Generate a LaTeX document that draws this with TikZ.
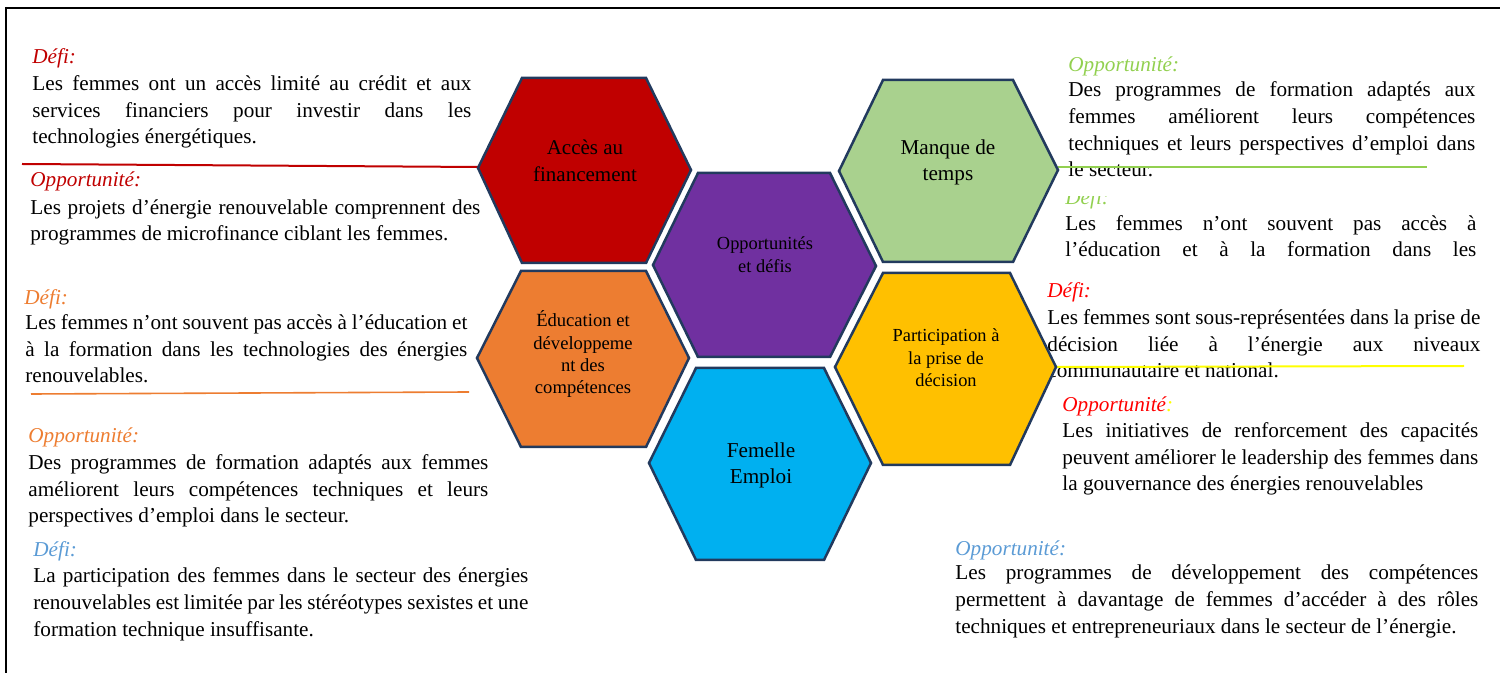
\documentclass[tikz,border=0pt]{standalone}
\usepackage{fontspec}
\setmainfont{Liberation Serif}
\definecolor{cRed}{HTML}{C00000}
\definecolor{cPurple}{HTML}{7030A0}
\definecolor{cGreen}{HTML}{A9D18E}
\definecolor{cLGreen}{HTML}{92D050}
\definecolor{cOrange}{HTML}{ED7D31}
\definecolor{cBlue}{HTML}{00B0F0}
\definecolor{cYellow}{HTML}{FFC000}
\definecolor{cBright}{HTML}{FF0000}
\definecolor{cSky}{HTML}{5B9BD5}
\definecolor{cEdge}{HTML}{223A5E}
\definecolor{cLine}{HTML}{FFFF00}
\newcommand\jl[2]{\makebox[#1][s]{#2}}
% multi-line nodes: the base anchor is the baseline of the LAST line
\tikzset{
  body/.style={anchor=base west, inner sep=0pt, align=left, font=\fontsize{10.6}{13.35}\selectfont},
  head/.style={anchor=base west, inner sep=0pt, font=\fontsize{10.6}{13.35}\selectfont\itshape},
  hexa/.style={draw=cEdge, line width=1.25pt, line join=miter},
  hlab/.style={anchor=base, inner sep=0pt, align=center},
  rule/.style={line width=1pt}
}
\begin{document}
\begin{tikzpicture}[x=0.5pt,y=-0.5pt]
\useasboundingbox (0,0) rectangle (1500,673);
% frame
\draw[line width=1.4pt] (6,8) -- (1500,8);
\draw[line width=1pt] (6,7) -- (6,673);

% ---------- left column ----------
\node[head,text=cRed] (h1) at (32,64) {Défi:};
\node[body] (b1) at (32,144) {\jl{219.5pt}{Les femmes ont un accès limité au crédit et aux}\\
\jl{219.5pt}{services financiers pour investir dans les}\\
technologies énergétiques.};
\coordinate (r1a) at (22,164);
\coordinate (r1b) at (478,167);
\draw[rule,cRed] (r1a) -- (r1b);
\node[head,text=cRed] (h2) at (30,187) {Opportunité:};
\node[body] (b2) at (30,241) {\jl{225pt}{Les projets d’énergie renouvelable comprennent des}\\
programmes de microfinance ciblant les femmes.};

\node[head,text=cOrange] (h3) at (24,305) {Défi:};
\node[body] (b3) at (25,383) {\jl{221pt}{Les femmes n’ont souvent pas accès à l’éducation et}\\
\jl{221pt}{à la formation dans les technologies des énergies}\\
renouvelables.};
\coordinate (r3a) at (31,394);
\coordinate (r3b) at (469,392);
\draw[rule,cOrange,line width=0.8pt] (r3a) -- (r3b);
\node[head,text=cOrange] (h4) at (28,443) {Opportunité:};
\node[body] (b4) at (28,523) {\jl{230pt}{Des programmes de formation adaptés aux femmes}\\
\jl{230pt}{améliorent leurs compétences techniques et leurs}\\
perspectives d’emploi dans le secteur.};

\node[head,text=cSky] (h5) at (33,557) {Défi:};
\node[body] (b5) at (33,636) {\jl{247.5pt}{La participation des femmes dans le secteur des énergies}\\
\jl{247.5pt}{renouvelables est limitée par les stéréotypes sexistes et une}\\
formation technique insuffisante.};

% ---------- right column ----------
\node[head,text=cLGreen] (h6) at (1068,72) {Opportunité:};
\node[body] (b6) at (1068,177) {\jl{203.5pt}{Des programmes de formation adaptés aux}\\
\jl{203.5pt}{femmes améliorent leurs compétences}\\
\jl{203.5pt}{techniques et leurs perspectives d’emploi dans}\\
le secteur.};
\coordinate (r6a) at (1058,167);
\coordinate (r6b) at (1427,167);
\draw[rule,cLGreen] (r6a) -- (r6b);
\begin{scope}
\clip (1055,197) rectangle (1140,215);
\node[head,text=cLGreen] (h7) at (1065,205) {Défi:};
\end{scope}
\node[body] (b7) at (1065,257) {\jl{205.5pt}{Les femmes n’ont souvent pas accès à}\\
\jl{205.5pt}{l’éducation et à la formation dans les}};

\node[head,text=cBright] (h8) at (1047,298) {Défi:};
\node[body] (b8) at (1047,378) {\jl{216.5pt}{Les femmes sont sous-représentées dans la prise de}\\
\jl{216.5pt}{décision liée à l’énergie aux niveaux}\\
communautaire et national.};
\coordinate (r8a) at (1056,367);
\coordinate (r8b) at (1464,366);
\draw[rule,cLine] (r8a) -- (r8b);
\node[head] (h9) at (1062,412) {\textcolor{cBright}{Opportunité}\textcolor{cLine}{:}};
\node[body] (b9) at (1062,491) {\jl{208pt}{Les initiatives de renforcement des capacités}\\
\jl{208pt}{peuvent améliorer le leadership des femmes dans}\\
la gouvernance des énergies renouvelables};

\node[head,text=cSky] (h10) at (955,555) {Opportunité:};
\node[body] (b10) at (955,633) {\jl{261.5pt}{Les programmes de développement des compétences}\\
\jl{261.5pt}{permettent à davantage de femmes d’accéder à des rôles}\\
techniques et entrepreneuriaux dans le secteur de l’énergie.};

% ---------- hexagons ----------
\draw[hexa,fill=cRed] (478,168) -- (522,78) -- (646,78) -- (691,170) -- (646,263) -- (522,263) -- cycle;
\draw[hexa,fill=cPurple] (653,265) -- (698,173) -- (830,173) -- (876,266) -- (830,357) -- (698,357) -- cycle;
\draw[hexa,fill=cGreen] (839,171) -- (883,80) -- (1013,80) -- (1058,170) -- (1013,262) -- (883,262) -- cycle;
\draw[hexa,fill=cOrange] (477,358) -- (521,271) -- (646,271) -- (689,358) -- (646,447) -- (521,447) -- cycle;
\draw[hexa,fill=cBlue] (649,463) -- (696,368) -- (824,368) -- (871,463) -- (824,560) -- (696,560) -- cycle;
\draw[hexa,fill=cYellow] (835,367) -- (883,273) -- (1010,273) -- (1056,367) -- (1010,465) -- (883,465) -- cycle;

\node[hlab,font=\fontsize{10.5}{13.5}\selectfont] (l1) at (585,182) {Accès au\\financement};
\node[hlab,font=\fontsize{9.2}{11.5}\selectfont] (l2) at (765,273) {Opportunités\\et défis};
\node[hlab,font=\fontsize{10.6}{13}\selectfont] (l3) at (948,181) {Manque de\\temps};
\node[hlab,font=\fontsize{9.3}{11.2}\selectfont] (l4) at (583,394) {Éducation et\\développeme\\nt des\\compétences};
\node[hlab,font=\fontsize{10.6}{13}\selectfont] (l5) at (761,484) {Femelle\\Emploi};
\node[hlab,font=\fontsize{9.2}{11.25}\selectfont] (l6) at (946,387) {Participation à\\la prise de\\décision};
\end{tikzpicture}
\end{document}
